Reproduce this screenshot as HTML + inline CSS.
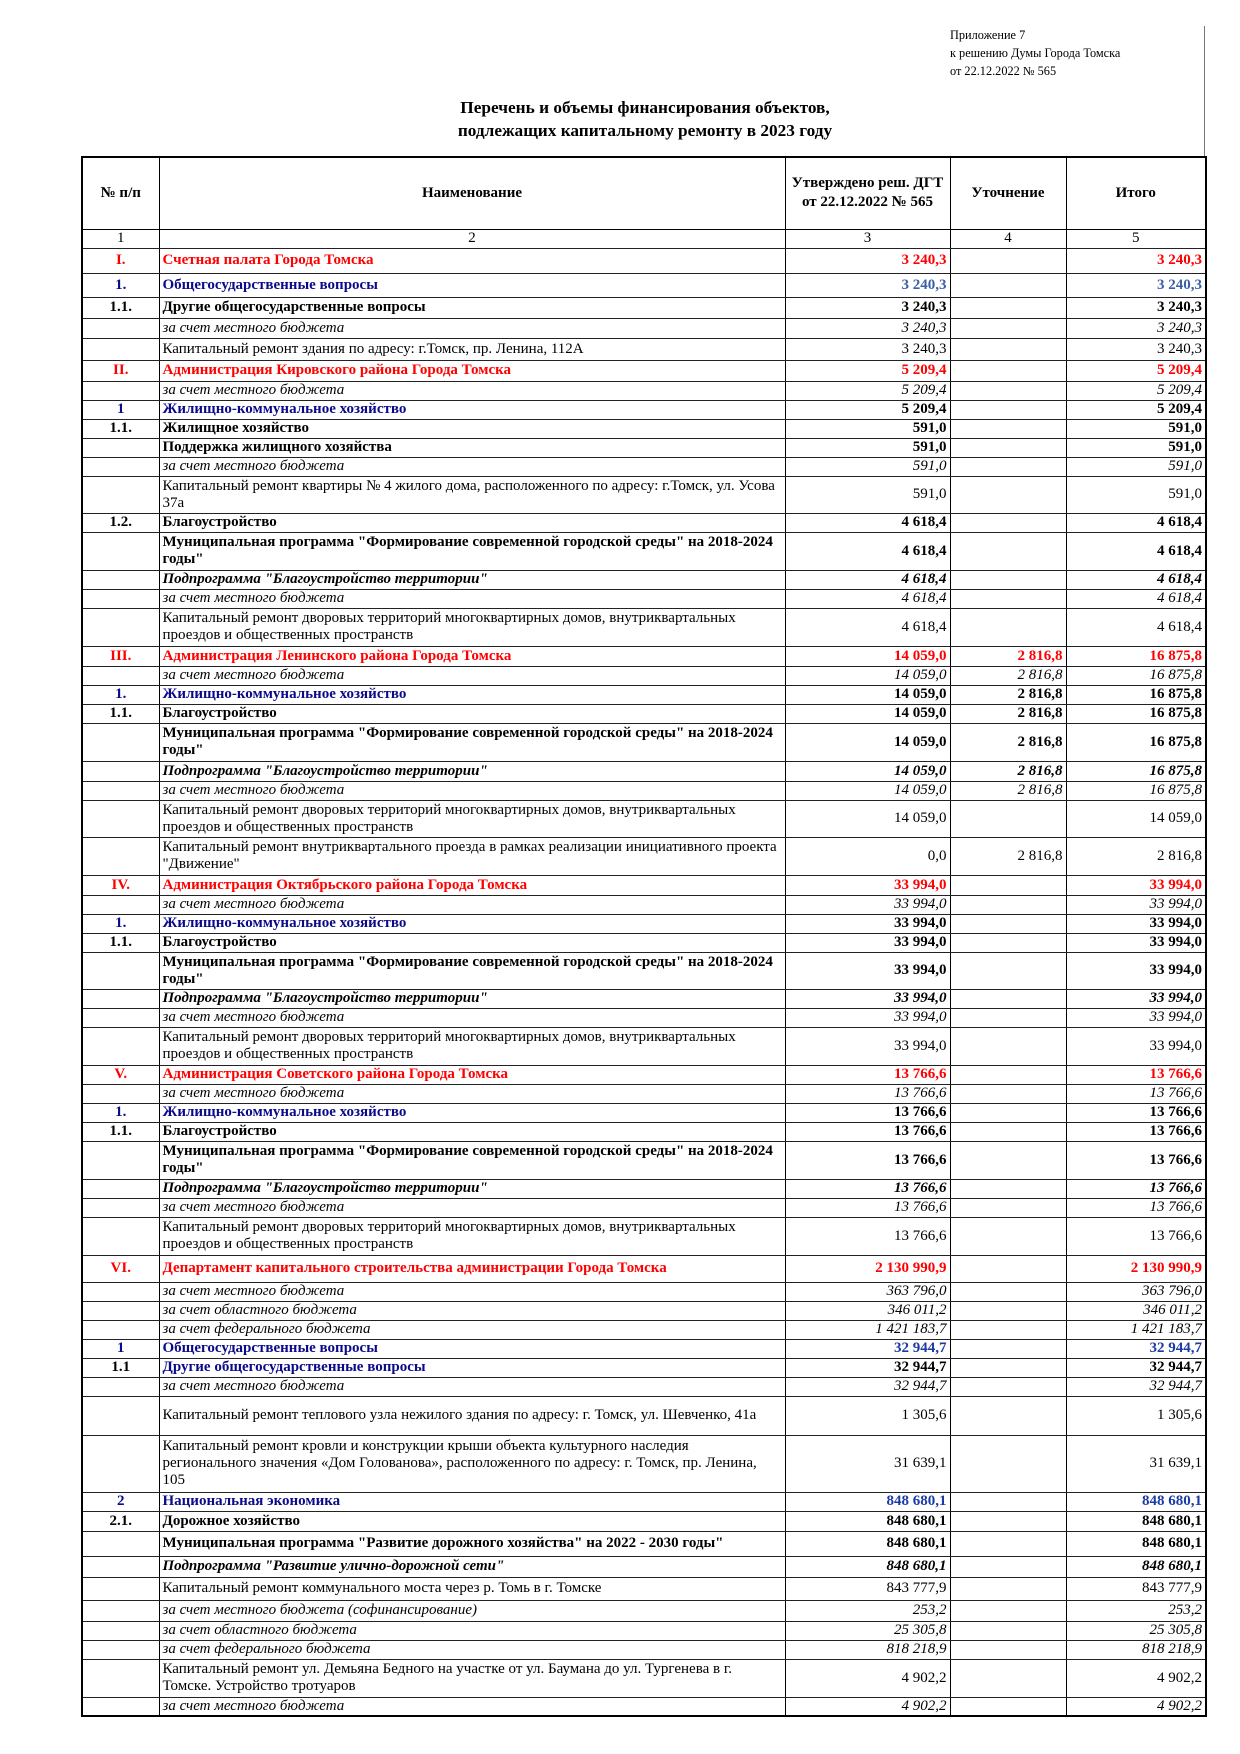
<!DOCTYPE html>
<html><head><meta charset="utf-8">
<style>
body{margin:0;background:#fff;width:1240px;height:1754px;position:relative;font-family:"Liberation Serif",serif;color:#000}
.hdr{position:absolute;left:950px;top:26px;font-size:12.3px;line-height:18px}
.vline{position:absolute;left:1204px;top:26px;width:1px;height:130px;background:#777}
.title{position:absolute;left:250px;width:790px;top:96px;text-align:center;font-weight:bold;font-size:17.3px;line-height:23px}
table{position:absolute;left:81px;top:156px;border-collapse:collapse;table-layout:fixed;width:1124px;border:2px solid #000}
td{border:1px solid #000;border-bottom:1.5px solid #222;padding:0 3px;font-size:15px;line-height:17px;vertical-align:middle;overflow:hidden}
td:first-child{text-align:center}
td.n{text-align:right}
th{border:1.5px solid #000;font-size:15px;font-weight:bold;line-height:19px}
.R td{color:#f00;font-weight:bold}
.B td{color:#0a0a8a;font-weight:bold}
.B td.n{color:#3a5fa6}
.K td{font-weight:bold}
.I td{font-style:italic}
.IB td{font-style:italic;font-weight:bold}
.cn td{text-align:center}
.cn td.n{text-align:center}
</style></head><body>
<div class="vline"></div>
<div class="hdr">Приложение 7<br>к решению Думы Города Томска<br>от 22.12.2022 № 565</div>
<div class="title">Перечень и объемы финансирования объектов,<br>подлежащих капитальному ремонту в 2023 году</div>
<table>
<colgroup><col style="width:77px"><col style="width:626px"><col style="width:165px"><col style="width:116px"><col style="width:140px"></colgroup>
<tr style="height:72px"><th>№ п/п</th><th>Наименование</th><th>Утверждено реш. ДГТ<br>от 22.12.2022 № 565</th><th>Уточнение</th><th>Итого</th></tr>
<tr class="cn" style="height:19px"><td>1</td><td>2</td><td class="n">3</td><td class="n">4</td><td class="n">5</td></tr>
<tr class="R" style="height:25px"><td>I.</td><td>Счетная палата Города Томска</td><td class="n">3 240,3</td><td class="n"></td><td class="n">3 240,3</td></tr>
<tr class="B" style="height:24px"><td>1.</td><td>Общегосударственные вопросы</td><td class="n">3 240,3</td><td class="n"></td><td class="n">3 240,3</td></tr>
<tr class="K" style="height:21px"><td>1.1.</td><td>Другие общегосударственные вопросы</td><td class="n">3 240,3</td><td class="n"></td><td class="n">3 240,3</td></tr>
<tr class="I" style="height:20px"><td></td><td>за счет местного бюджета</td><td class="n">3 240,3</td><td class="n"></td><td class="n">3 240,3</td></tr>
<tr style="height:22px"><td></td><td>Капитальный ремонт здания по адресу: г.Томск, пр. Ленина, 112А</td><td class="n">3 240,3</td><td class="n"></td><td class="n">3 240,3</td></tr>
<tr class="R" style="height:21px"><td>II.</td><td>Администрация Кировского района Города Томска</td><td class="n">5 209,4</td><td class="n"></td><td class="n">5 209,4</td></tr>
<tr class="I" style="height:19px"><td></td><td>за счет местного бюджета</td><td class="n">5 209,4</td><td class="n"></td><td class="n">5 209,4</td></tr>
<tr class="B" style="height:19px"><td>1</td><td>Жилищно-коммунальное хозяйство</td><td class="n" style="color:#000">5 209,4</td><td class="n"></td><td class="n" style="color:#000">5 209,4</td></tr>
<tr class="K" style="height:19px"><td>1.1.</td><td>Жилищное хозяйство</td><td class="n">591,0</td><td class="n"></td><td class="n">591,0</td></tr>
<tr class="K" style="height:19px"><td></td><td>Поддержка жилищного хозяйства</td><td class="n">591,0</td><td class="n"></td><td class="n">591,0</td></tr>
<tr class="I" style="height:19px"><td></td><td>за счет местного бюджета</td><td class="n">591,0</td><td class="n"></td><td class="n">591,0</td></tr>
<tr style="height:37px"><td></td><td>Капитальный ремонт квартиры № 4 жилого дома, расположенного по адресу: г.Томск, ул. Усова 37а</td><td class="n">591,0</td><td class="n"></td><td class="n">591,0</td></tr>
<tr class="K" style="height:19px"><td>1.2.</td><td>Благоустройство</td><td class="n">4 618,4</td><td class="n"></td><td class="n">4 618,4</td></tr>
<tr class="K" style="height:38px"><td></td><td>Муниципальная программа "Формирование современной городской среды" на 2018-2024 годы"</td><td class="n">4 618,4</td><td class="n"></td><td class="n">4 618,4</td></tr>
<tr class="IB" style="height:19px"><td></td><td>Подпрограмма "Благоустройство территории"</td><td class="n">4 618,4</td><td class="n"></td><td class="n">4 618,4</td></tr>
<tr class="I" style="height:19px"><td></td><td>за счет местного бюджета</td><td class="n">4 618,4</td><td class="n"></td><td class="n">4 618,4</td></tr>
<tr style="height:38px"><td></td><td>Капитальный ремонт дворовых территорий многоквартирных домов, внутриквартальных проездов и общественных пространств</td><td class="n">4 618,4</td><td class="n"></td><td class="n">4 618,4</td></tr>
<tr class="R" style="height:20px"><td>III.</td><td>Администрация Ленинского района Города Томска</td><td class="n">14 059,0</td><td class="n">2 816,8</td><td class="n">16 875,8</td></tr>
<tr class="I" style="height:19px"><td></td><td>за счет местного бюджета</td><td class="n">14 059,0</td><td class="n">2 816,8</td><td class="n">16 875,8</td></tr>
<tr class="B" style="height:19px"><td>1.</td><td>Жилищно-коммунальное хозяйство</td><td class="n" style="color:#000">14 059,0</td><td class="n" style="color:#000">2 816,8</td><td class="n" style="color:#000">16 875,8</td></tr>
<tr class="K" style="height:19px"><td>1.1.</td><td>Благоустройство</td><td class="n">14 059,0</td><td class="n">2 816,8</td><td class="n">16 875,8</td></tr>
<tr class="K" style="height:38px"><td></td><td>Муниципальная программа "Формирование современной городской среды" на 2018-2024 годы"</td><td class="n">14 059,0</td><td class="n">2 816,8</td><td class="n">16 875,8</td></tr>
<tr class="IB" style="height:20px"><td></td><td>Подпрограмма "Благоустройство территории"</td><td class="n">14 059,0</td><td class="n">2 816,8</td><td class="n">16 875,8</td></tr>
<tr class="I" style="height:19px"><td></td><td>за счет местного бюджета</td><td class="n">14 059,0</td><td class="n">2 816,8</td><td class="n">16 875,8</td></tr>
<tr style="height:37px"><td></td><td>Капитальный ремонт дворовых территорий многоквартирных домов, внутриквартальных проездов и общественных пространств</td><td class="n">14 059,0</td><td class="n"></td><td class="n">14 059,0</td></tr>
<tr style="height:38px"><td></td><td>Капитальный ремонт внутриквартального проезда в рамках реализации инициативного проекта "Движение"</td><td class="n">0,0</td><td class="n">2 816,8</td><td class="n">2 816,8</td></tr>
<tr class="R" style="height:20px"><td>IV.</td><td>Администрация Октябрьского района Города Томска</td><td class="n">33 994,0</td><td class="n"></td><td class="n">33 994,0</td></tr>
<tr class="I" style="height:19px"><td></td><td>за счет местного бюджета</td><td class="n">33 994,0</td><td class="n"></td><td class="n">33 994,0</td></tr>
<tr class="B" style="height:19px"><td>1.</td><td>Жилищно-коммунальное хозяйство</td><td class="n" style="color:#000">33 994,0</td><td class="n"></td><td class="n" style="color:#000">33 994,0</td></tr>
<tr class="K" style="height:19px"><td>1.1.</td><td>Благоустройство</td><td class="n">33 994,0</td><td class="n"></td><td class="n">33 994,0</td></tr>
<tr class="K" style="height:37px"><td></td><td>Муниципальная программа "Формирование современной городской среды" на 2018-2024 годы"</td><td class="n">33 994,0</td><td class="n"></td><td class="n">33 994,0</td></tr>
<tr class="IB" style="height:19px"><td></td><td>Подпрограмма "Благоустройство территории"</td><td class="n">33 994,0</td><td class="n"></td><td class="n">33 994,0</td></tr>
<tr class="I" style="height:19px"><td></td><td>за счет местного бюджета</td><td class="n">33 994,0</td><td class="n"></td><td class="n">33 994,0</td></tr>
<tr style="height:38px"><td></td><td>Капитальный ремонт дворовых территорий многоквартирных домов, внутриквартальных проездов и общественных пространств</td><td class="n">33 994,0</td><td class="n"></td><td class="n">33 994,0</td></tr>
<tr class="R" style="height:19px"><td>V.</td><td>Администрация Советского района Города Томска</td><td class="n">13 766,6</td><td class="n"></td><td class="n">13 766,6</td></tr>
<tr class="I" style="height:19px"><td></td><td>за счет местного бюджета</td><td class="n">13 766,6</td><td class="n"></td><td class="n">13 766,6</td></tr>
<tr class="B" style="height:19px"><td>1.</td><td>Жилищно-коммунальное хозяйство</td><td class="n" style="color:#000">13 766,6</td><td class="n"></td><td class="n" style="color:#000">13 766,6</td></tr>
<tr class="K" style="height:19px"><td>1.1.</td><td>Благоустройство</td><td class="n">13 766,6</td><td class="n"></td><td class="n">13 766,6</td></tr>
<tr class="K" style="height:38px"><td></td><td>Муниципальная программа "Формирование современной городской среды" на 2018-2024 годы"</td><td class="n">13 766,6</td><td class="n"></td><td class="n">13 766,6</td></tr>
<tr class="IB" style="height:19px"><td></td><td>Подпрограмма "Благоустройство территории"</td><td class="n">13 766,6</td><td class="n"></td><td class="n">13 766,6</td></tr>
<tr class="I" style="height:19px"><td></td><td>за счет местного бюджета</td><td class="n">13 766,6</td><td class="n"></td><td class="n">13 766,6</td></tr>
<tr style="height:38px"><td></td><td>Капитальный ремонт дворовых территорий многоквартирных домов, внутриквартальных проездов и общественных пространств</td><td class="n">13 766,6</td><td class="n"></td><td class="n">13 766,6</td></tr>
<tr class="R" style="height:27px"><td>VI.</td><td>Департамент капитального строительства администрации Города Томска</td><td class="n">2 130 990,9</td><td class="n"></td><td class="n">2 130 990,9</td></tr>
<tr class="I" style="height:19px"><td></td><td>за счет местного бюджета</td><td class="n">363 796,0</td><td class="n"></td><td class="n">363 796,0</td></tr>
<tr class="I" style="height:19px"><td></td><td>за счет областного бюджета</td><td class="n">346 011,2</td><td class="n"></td><td class="n">346 011,2</td></tr>
<tr class="I" style="height:19px"><td></td><td>за счет федерального бюджета</td><td class="n">1 421 183,7</td><td class="n"></td><td class="n">1 421 183,7</td></tr>
<tr class="B" style="height:19px"><td>1</td><td>Общегосударственные вопросы</td><td class="n" style="color:#1a3aa8">32 944,7</td><td class="n"></td><td class="n" style="color:#1a3aa8">32 944,7</td></tr>
<tr class="B" style="height:19px"><td style="color:#000">1.1</td><td>Другие общегосударственные вопросы</td><td class="n" style="color:#000">32 944,7</td><td class="n"></td><td class="n" style="color:#000">32 944,7</td></tr>
<tr class="I" style="height:19px"><td></td><td>за счет местного бюджета</td><td class="n">32 944,7</td><td class="n"></td><td class="n">32 944,7</td></tr>
<tr style="height:39px"><td></td><td>Капитальный ремонт теплового узла нежилого здания по адресу: г. Томск, ул. Шевченко, 41а</td><td class="n">1 305,6</td><td class="n"></td><td class="n">1 305,6</td></tr>
<tr style="height:57px"><td></td><td>Капитальный ремонт кровли и конструкции крыши объекта культурного наследия регионального значения «Дом Голованова», расположенного по адресу: г. Томск, пр. Ленина, 105</td><td class="n">31 639,1</td><td class="n"></td><td class="n">31 639,1</td></tr>
<tr class="B" style="height:19px"><td>2</td><td>Национальная экономика</td><td class="n" style="color:#1a3aa8">848 680,1</td><td class="n"></td><td class="n" style="color:#1a3aa8">848 680,1</td></tr>
<tr class="K" style="height:20px"><td>2.1.</td><td>Дорожное хозяйство</td><td class="n">848 680,1</td><td class="n"></td><td class="n">848 680,1</td></tr>
<tr class="K" style="height:25px"><td></td><td>Муниципальная программа "Развитие дорожного хозяйства" на 2022 - 2030 годы"</td><td class="n">848 680,1</td><td class="n"></td><td class="n">848 680,1</td></tr>
<tr class="IB" style="height:21px"><td></td><td>Подпрограмма "Развитие улично-дорожной сети"</td><td class="n">848 680,1</td><td class="n"></td><td class="n">848 680,1</td></tr>
<tr style="height:23px"><td></td><td>Капитальный ремонт коммунального моста через р. Томь в г. Томске</td><td class="n">843 777,9</td><td class="n"></td><td class="n">843 777,9</td></tr>
<tr class="I" style="height:21px"><td></td><td>за счет местного бюджета (софинансирование)</td><td class="n">253,2</td><td class="n"></td><td class="n">253,2</td></tr>
<tr class="I" style="height:19px"><td></td><td>за счет областного бюджета</td><td class="n">25 305,8</td><td class="n"></td><td class="n">25 305,8</td></tr>
<tr class="I" style="height:19px"><td></td><td>за счет федерального бюджета</td><td class="n">818 218,9</td><td class="n"></td><td class="n">818 218,9</td></tr>
<tr style="height:38px"><td></td><td>Капитальный ремонт ул. Демьяна Бедного на участке от ул. Баумана до ул. Тургенева в г. Томске. Устройство тротуаров</td><td class="n">4 902,2</td><td class="n"></td><td class="n">4 902,2</td></tr>
<tr class="I" style="height:19px"><td></td><td>за счет местного бюджета</td><td class="n">4 902,2</td><td class="n"></td><td class="n">4 902,2</td></tr>
</table>
</body></html>
